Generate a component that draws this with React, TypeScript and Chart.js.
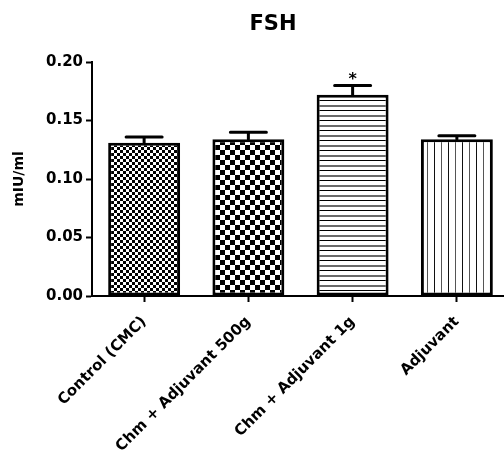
import React, { useEffect, useRef } from 'react';
import { Chart, registerables } from 'chart.js';

Chart.register(...registerables);

// ---- data ----
const categories = ['Control (CMC)', 'Chm + Adjuvant 500g', 'Chm + Adjuvant 1g', 'Adjuvant'];
const means = [0.131, 0.134, 0.172, 0.134];
const sems = [0.005, 0.006, 0.008, 0.003];
const significance = ['', '', '*', ''];
const yMin = 0;
const yMax = 0.2;
const yStep = 0.05;
const chartTitle = 'FSH';
const yAxisTitle = 'mIU/ml';

const FONT = '"DejaVu Sans", "Liberation Sans", sans-serif';

function makePattern(kind: number): CanvasPattern | string {
  const c = document.createElement('canvas');
  const ctx = c.getContext('2d');
  if (!ctx) return '#fff';
  if (kind === 0 || kind === 1) {
    const cell = kind === 0 ? 3 : 5;
    c.width = cell * 2;
    c.height = cell * 2;
    ctx.fillStyle = '#fff';
    ctx.fillRect(0, 0, c.width, c.height);
    ctx.fillStyle = '#000';
    ctx.fillRect(0, 0, cell, cell);
    ctx.fillRect(cell, cell, cell, cell);
  } else if (kind === 2) {
    c.width = 4;
    c.height = 10;
    ctx.fillStyle = '#fff';
    ctx.fillRect(0, 0, 4, 10);
    ctx.fillStyle = '#000';
    ctx.fillRect(0, 0, 4, 1);
    ctx.fillStyle = '#6a6a6a';
    ctx.fillRect(0, 5, 4, 2);
  } else {
    c.width = 14;
    c.height = 4;
    ctx.fillStyle = '#fff';
    ctx.fillRect(0, 0, 14, 4);
    ctx.fillStyle = '#111';
    ctx.fillRect(0, 0, 1, 4);
    ctx.fillStyle = '#555';
    ctx.fillRect(7, 0, 1, 4);
  }
  const p = ctx.createPattern(c, 'repeat');
  return p || '#fff';
}

const errorBarPlugin = {
  id: 'errorBars',
  afterDatasetsDraw(chart: any) {
    const ctx = chart.ctx;
    const meta = chart.getDatasetMeta(0);
    const yScale = chart.scales.y;
    ctx.save();
    ctx.strokeStyle = '#000';
    ctx.lineWidth = 3;
    ctx.lineCap = 'round';
    meta.data.forEach((el: any, i: number) => {
      const x = el.x;
      const yTop = yScale.getPixelForValue(means[i]);
      const yErr = yScale.getPixelForValue(means[i] + sems[i]);
      ctx.beginPath();
      ctx.moveTo(x, yTop);
      ctx.lineTo(x, yErr);
      ctx.moveTo(x - 18, yErr);
      ctx.lineTo(x + 18, yErr);
      ctx.stroke();
      if (significance[i]) {
        ctx.fillStyle = '#000';
        ctx.font = 'bold 16px ' + FONT;
        ctx.textAlign = 'center';
        ctx.textBaseline = 'alphabetic';
        ctx.fillText(significance[i], x, yErr - 1);
      }
    });
    ctx.restore();
  },
  afterDraw(chart: any) {
    const ctx = chart.ctx;
    ctx.save();
    ctx.fillStyle = '#000';
    ctx.font = 'bold 21px ' + FONT;
    ctx.textAlign = 'center';
    ctx.textBaseline = 'middle';
    ctx.fillText(chartTitle, 273, 25);
    ctx.restore();
  },
};

export default function App() {
  const ref = useRef<HTMLCanvasElement | null>(null);
  useEffect(() => {
    if (!ref.current) return;
    const patterns = [0, 1, 2, 3].map((k) => makePattern(k));
    const chart = new Chart(ref.current, {
      type: 'bar',
      data: {
        labels: categories,
        datasets: [
          {
            data: means,
            backgroundColor: patterns as any,
            borderColor: '#000',
            borderWidth: 3,
            borderSkipped: false,
            barPercentage: 0.69,
            categoryPercentage: 1,
          },
        ],
      },
      options: {
        animation: false,
        responsive: false,
        maintainAspectRatio: false,
        devicePixelRatio: 1,
        layout: { padding: { top: 62, left: 0, right: 3, bottom: 0 } },
        plugins: {
          legend: { display: false },
          tooltip: { enabled: false },
          title: { display: false },
        },
        scales: {
          x: {
            afterFit: (s: any) => {
              s.height = 160;
            },
            grid: {
              display: true,
              drawOnChartArea: false,
              drawTicks: true,
              tickLength: 6,
              tickWidth: 2,
              tickColor: '#000',
              color: '#000',
              offset: false,
            },
            border: { display: true, color: '#000', width: 2 },
            ticks: {
              color: '#000',
              font: { family: FONT, weight: 'bold', size: 15 },
              minRotation: 45,
              maxRotation: 45,
              autoSkip: false,
              padding: 11,
            },
          },
          y: {
            min: yMin,
            max: yMax,
            afterFit: (s: any) => {
              s.width = 92;
            },
            grid: {
              display: true,
              drawOnChartArea: false,
              drawTicks: true,
              tickLength: 6,
              tickWidth: 2,
              tickColor: '#000',
              color: '#000',
            },
            border: { display: true, color: '#000', width: 2 },
            ticks: {
              stepSize: yStep,
              color: '#000',
              font: { family: FONT, weight: 'bold', size: 15 },
              padding: 3,
              callback: (v: any) => Number(v).toFixed(2),
            },
            title: {
              display: true,
              text: yAxisTitle,
              color: '#000',
              font: { family: FONT, weight: 'bold', size: 14 },
              padding: { top: 11, bottom: 0 },
            },
          },
        },
      },
      plugins: [errorBarPlugin],
    });
    return () => chart.destroy();
  }, []);
  return (
    <div
      style={{
        position: 'absolute',
        left: 0,
        top: 0,
        width: 504,
        height: 456,
        overflow: 'hidden',
        background: '#fff',
      }}
    >
      <canvas ref={ref} width={512} height={456} style={{ display: 'block' }} />
    </div>
  );
}
